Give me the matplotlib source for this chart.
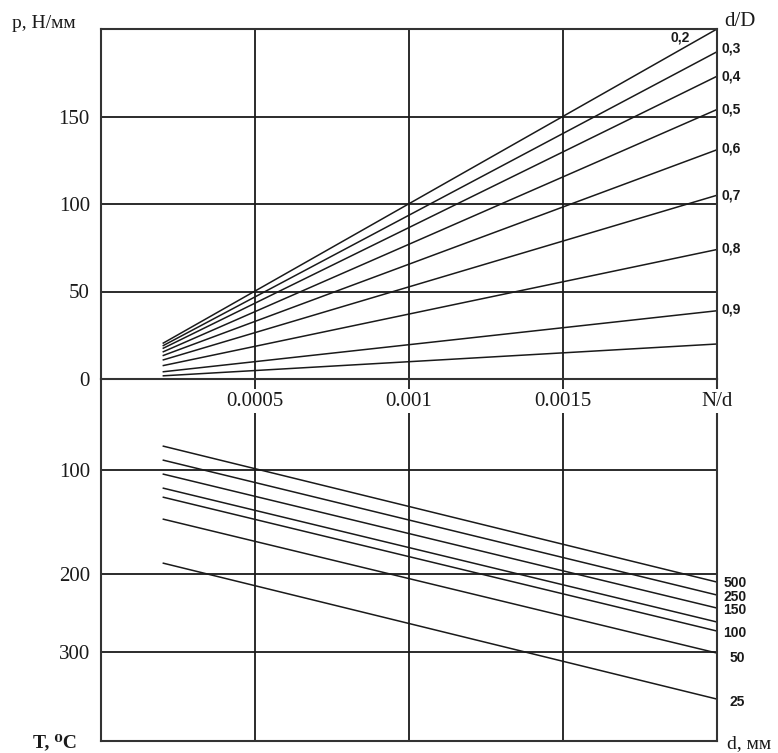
import numpy as np
import matplotlib
matplotlib.use("Agg")
import matplotlib.pyplot as plt

# ---------------- data ----------------
# top panel: p (N/mm) vs N/d for several d/D ratios
nd_start = 0.0002
nd_end = 0.002
dD_labels = ["0,2", "0,3", "0,4", "0,5", "0,6", "0,7", "0,8", "0,9", ""]
p_start = [20.3, 18.9, 17.4, 15.4, 13.3, 10.8, 7.6, 4.1, 1.8]
p_end = [200, 187, 173, 154, 131, 105, 74, 39, 20]

# bottom panel: T (deg C) vs N/d for several d (mm)
d_labels = ["500", "250", "150", "", "100", "50", "25"]
T_start = [73.6, 89.0, 103.8, 117.3, 126.0, 147.1, 189.4]
T_end = [210.3, 226.9, 243.6, 261.5, 273.1, 301.3, 360.3]

top_xticks = [0.0005, 0.001, 0.0015, 0.002]
top_xticklabels = ["0.0005", "0.001", "0.0015", "N/d"]
top_yticks = [0, 50, 100, 150]
bot_yticks = [100, 200, 300]

# non-uniform temperature axis of the original nomogram (value -> relative position)
T_anchor = [0, 100, 200, 300, 420]
T_pos = [0, 91, 195, 273, 366.6]
T_max = 414

# ---------------- styles ----------------
INK = "#1a1a1a"
SERIF = ["Liberation Serif", "DejaVu Serif"]
SANS = ["Liberation Sans", "DejaVu Sans"]
# label offsets in pixels (dx, dy) relative to the line end
dD_offsets = [(-37, -8), (5, 3), (5, 0), (5, 0), (5, 1), (5, 0), (5, 1), (5, 1), (5, 0)]
d_offsets = [(18, -1), (18, -2), (18, -2), (18, 0), (18, -2), (20, -5), (20, -3)]

fig = plt.figure(figsize=(7.78, 7.53), dpi=100)
L = 101 / 778
W = 616 / 778
ax_top = fig.add_axes([L, 1 - 379 / 753, W, 350 / 753])
ax_bot = fig.add_axes([L, 1 - 741 / 753, W, 362 / 753])
ax_top.set_zorder(3)
ax_top.set_facecolor("none")

# ---- top panel ----
for ps, pe in zip(p_start, p_end):
    ax_top.plot([nd_start, nd_end], [ps, pe], color=INK, lw=1.1, solid_capstyle="butt")
for lab, pe, (dx, dy) in zip(dD_labels, p_end, dD_offsets):
    if lab:
        ax_top.annotate(lab, xy=(nd_end, pe), xytext=(dx, dy), textcoords="offset pixels",
                        ha="left" if dx > 0 else "center", va="center",
                        fontsize=10, fontweight="bold", family=SANS, color=INK,
                        annotation_clip=False)
ax_top.set_xlim(0, nd_end)
ax_top.set_ylim(0, 200)
ax_top.set_xticks(top_xticks)
ax_top.set_xticklabels(top_xticklabels, family=SERIF, fontsize=15)
ax_top.set_yticks(top_yticks)
ax_top.set_yticklabels([str(v) for v in top_yticks], family=SERIF, fontsize=15)
ax_top.tick_params(axis="both", length=0, colors=INK)
ax_top.tick_params(axis="y", pad=8)
ax_top.tick_params(axis="x", pad=9)
for t in ax_top.get_xticklabels():
    t.set_bbox(dict(facecolor="white", edgecolor="none", pad=2))
ax_top.grid(True, color=INK, lw=1.3)
for s in ax_top.spines.values():
    s.set_color("#333333")
    s.set_linewidth(1.5)

# ---- bottom panel ----
def t_fwd(v):
    return np.interp(v, T_anchor, T_pos)

def t_inv(v):
    return np.interp(v, T_pos, T_anchor)

ax_bot.set_yscale("function", functions=(t_fwd, t_inv))
for ts, te in zip(T_start, T_end):
    ax_bot.plot([nd_start, nd_end], [ts, te], color=INK, lw=1.1, solid_capstyle="butt")
for lab, te, (dx, dy) in zip(d_labels, T_end, d_offsets):
    if lab:
        ax_bot.annotate(lab, xy=(nd_end, te), xytext=(dx, dy), textcoords="offset pixels",
                        ha="center", va="center", fontsize=10, fontweight="bold",
                        family=SANS, color=INK, annotation_clip=False)
ax_bot.set_xlim(0, nd_end)
ax_bot.set_ylim(T_max, 0)
ax_bot.set_xticks(top_xticks[:3])
ax_bot.set_xticklabels([])
ax_bot.set_yticks(bot_yticks)
ax_bot.set_yticklabels([str(v) for v in bot_yticks], family=SERIF, fontsize=15)
ax_bot.tick_params(axis="both", length=0, colors=INK)
ax_bot.tick_params(axis="y", pad=8)
ax_bot.grid(True, color=INK, lw=1.3)
ax_bot.spines["top"].set_visible(False)
for k in ["left", "right", "bottom"]:
    ax_bot.spines[k].set_color("#333333")
    ax_bot.spines[k].set_linewidth(1.5)

# ---- axis titles ----
fig.text(12 / 778, 1 - 24 / 753, "p, Н/мм", family=SERIF, fontsize=14, ha="left", va="center", color=INK)
fig.text(724 / 778, 1 - 22 / 753, "d/D", family=SERIF, fontsize=15, ha="left", va="center", color=INK)
fig.text(33 / 778, 2 / 753, "T, ⁰C", family=SERIF, fontsize=14, fontweight="bold",
         ha="left", va="bottom", color=INK)
fig.text(727 / 778, 1 / 753, "d, мм", family=SERIF, fontsize=14, ha="left", va="bottom", color=INK)

fig.savefig("out.png", dpi=100, facecolor="white")
